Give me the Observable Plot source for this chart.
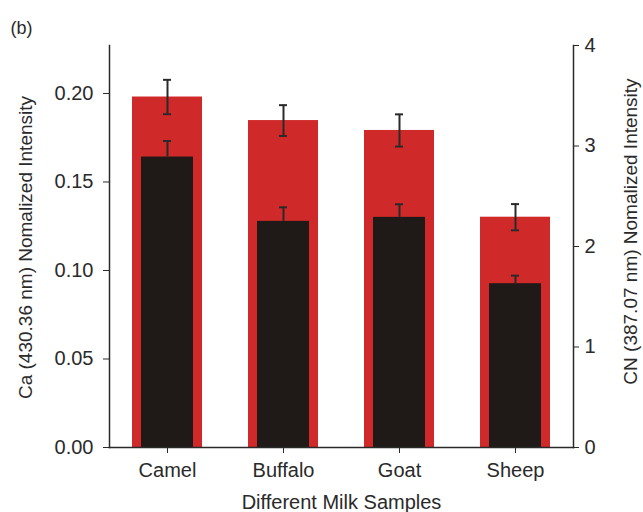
<!DOCTYPE html>
<html>
<head>
<meta charset="utf-8">
<script src="https://cdn.jsdelivr.net/npm/d3@7"></script>
<script src="https://cdn.jsdelivr.net/npm/@observablehq/plot@0.6"></script>
<style>
  html, body { margin: 0; padding: 0; background: #fff; }
</style>
</head>
<body>
<div id="chart"></div>
<script>
const samples = ["Camel", "Buffalo", "Goat", "Sheep"];
const caValues = [0.198, 0.1847, 0.1791, 0.1301];
const caErrors = [0.0097, 0.0087, 0.0091, 0.0074];
const cnValues = [2.89, 2.25, 2.29, 1.63];
const cnErrors = [0.16, 0.14, 0.13, 0.08];
const leftTicks = [0, 0.05, 0.10, 0.15, 0.20];
const rightTicks = [0, 1, 2, 3, 4];
const leftLabel = "Ca (430.36 nm) Nomalized Intensity";
const rightLabel = "CN (387.07 nm) Nomalized Intensity";
const xLabel = "Different Milk Samples";

const yMax = 0.2271;          // left axis top
const k = yMax / 4;            // right axis (0..4) mapped onto left scale

const rows = samples.map((s, i) => ({
  sample: s, ca: caValues[i], caErr: caErrors[i], cn: cnValues[i], cnErr: cnErrors[i]
}));

const red = "#d0292a";
const dark = "#1f1a17";
const ink = "#2a2a2a";

const chart = Plot.plot({
  width: 643,
  height: 512,
  marginLeft: 109,
  marginRight: 70,
  marginTop: 45,
  marginBottom: 65,
  style: { fontFamily: "'Liberation Sans', Arial, sans-serif", fontSize: "19px", color: ink, background: "#fff" },
  x: { type: "band", domain: samples, padding: 0 },
  y: { domain: [0, yMax] },
  marks: [
    Plot.barY(rows, { x: "sample", y: "ca", fill: red, insetLeft: 23, insetRight: 23 }),
    Plot.ruleX(rows, { x: "sample", y1: d => d.ca - d.caErr, y2: d => d.ca + d.caErr, stroke: ink, strokeWidth: 2 }),
    Plot.tickY(rows, { x: "sample", y: d => d.ca - d.caErr, stroke: ink, strokeWidth: 2, insetLeft: 54, insetRight: 54 }),
    Plot.tickY(rows, { x: "sample", y: d => d.ca + d.caErr, stroke: ink, strokeWidth: 2, insetLeft: 54, insetRight: 54 }),
    Plot.barY(rows, { x: "sample", y: d => d.cn * k, fill: dark, insetLeft: 32, insetRight: 32 }),
    Plot.ruleX(rows, { x: "sample", y1: d => d.cn * k, y2: d => (d.cn + d.cnErr) * k, stroke: ink, strokeWidth: 2 }),
    Plot.tickY(rows, { x: "sample", y: d => (d.cn + d.cnErr) * k, stroke: ink, strokeWidth: 2, insetLeft: 54, insetRight: 54 }),
    Plot.frame({ anchor: "left", stroke: ink, strokeWidth: 1.5 }),
    Plot.frame({ anchor: "right", stroke: ink, strokeWidth: 1.5 }),
    Plot.frame({ anchor: "bottom", stroke: ink, strokeWidth: 1.5 }),
    Plot.axisY({
      anchor: "left", ticks: leftTicks, tickFormat: d3.format(".2f"), tickSize: 6, tickPadding: 10,
      fontSize: 20, label: null
    }),
    Plot.axisY({
      anchor: "right", ticks: rightTicks.map(v => v * k), tickFormat: d => String(Math.round(d / k)),
      tickSize: 5, tickPadding: 6, fontSize: 20, label: null
    }),
    Plot.axisX({ tickSize: 6, tickPadding: 9, fontSize: 20, label: null }),
    Plot.text([xLabel], { frameAnchor: "bottom", text: d => d, dy: 55, textAnchor: "middle", lineAnchor: "middle", fontSize: 20, fill: ink }),
    Plot.text([leftLabel], { frameAnchor: "left", text: d => d, rotate: -90, textAnchor: "middle", lineAnchor: "middle", dx: -84, dy: 1, fontSize: 19, fill: ink }),
    Plot.text([rightLabel], { frameAnchor: "right", text: d => d, rotate: -90, textAnchor: "middle", lineAnchor: "middle", dx: 57, dy: -15, fontSize: 19, fill: ink }),
    Plot.text(["(b)"], { frameAnchor: "top-left", text: d => d, dx: -99, dy: -17, textAnchor: "start", lineAnchor: "middle", fontSize: 18, fill: ink })
  ]
});
document.getElementById("chart").appendChild(chart);
</script>
</body>
</html>
